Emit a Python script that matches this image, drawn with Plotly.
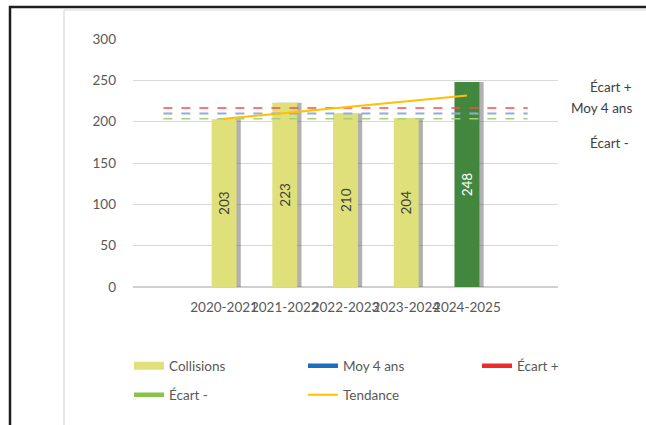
import plotly.graph_objects as go

# ---- data ----
categories = ["", "2020-2021", "2021-2022", "2022-2023", "2023-2024", "2024-2025", ""]
periods = ["2020-2021", "2021-2022", "2022-2023", "2023-2024", "2024-2025"]
collisions = [203, 223, 210, 204, 248]
moy_4_ans = 210
ecart_plus = 216.5
ecart_minus = 203.5
tendance = [203.4, 210.5, 217.6, 224.7, 231.8]
y_ticks = [0, 50, 100, 150, 200, 250, 300]

# ---- style ----
FONT = "Lato"
W, H = 646, 425
L, R, T, B = 133, 88, 39, 138
PW, PH = W - L - R, H - T - B

def xp(px):
    return (px - L) / PW

def yp(py):
    return (H - B - py) / PH

bar_pos = list(range(1, len(periods) + 1))
all_pos = list(range(len(categories)))
bar_colors = ["#E0E07A"] * 4 + ["#43873F"]
text_colors = ["#404040"] * 4 + ["#FFFFFF"]
BW = 0.41

fig = go.Figure()

# shadow behind bars
fig.add_trace(go.Bar(
    x=bar_pos, y=collisions, width=BW, offset=-BW / 2 + 0.07,
    marker=dict(color="rgba(70,70,70,0.42)", line=dict(width=0)),
    showlegend=False, hoverinfo="skip"))

fig.add_trace(go.Bar(
    x=bar_pos, y=collisions, width=BW, offset=-BW / 2,
    marker=dict(color=bar_colors, line=dict(width=0)),
    text=[str(v) for v in collisions], textposition="inside",
    insidetextanchor="middle", textangle=-90,
    textfont=dict(family=FONT, size=13.5, color=text_colors),
    showlegend=False, name="Collisions"))

# reference lines across the axis
fig.add_trace(go.Scatter(x=all_pos, y=[ecart_plus] * len(all_pos), mode="lines",
                         line=dict(color="#FF4A4A", width=1.5, dash="dash"),
                         showlegend=False, hoverinfo="skip"))
fig.add_trace(go.Scatter(x=all_pos, y=[moy_4_ans] * len(all_pos), mode="lines",
                         line=dict(color="#8DAEDA", width=2, dash="dash"),
                         showlegend=False, hoverinfo="skip"))
fig.add_trace(go.Scatter(x=all_pos, y=[ecart_minus] * len(all_pos), mode="lines",
                         line=dict(color="#A5D07A", width=1.5, dash="dash"),
                         showlegend=False, hoverinfo="skip"))
fig.add_trace(go.Scatter(x=bar_pos, y=tendance, mode="lines",
                         line=dict(color="#FFC000", width=2),
                         showlegend=False, hoverinfo="skip"))

# legend entries
def leg(name, color, width, legend):
    fig.add_trace(go.Scatter(x=[None], y=[None], mode="lines", name=name,
                             line=dict(color=color, width=width),
                             legend=legend, showlegend=True))

leg("Collisions", "#E0E07A", 8, "legend")
leg("Moy 4 ans", "#1A6FBF", 4.5, "legend")
leg("Écart +", "#EE2A2A", 4.5, "legend3")
leg("Écart -", "#8BC34A", 4.5, "legend2")
leg("Tendance", "#FFC000", 2, "legend2")

legfont = dict(family=FONT, size=13.5, color="#595959")

shapes = [
    # light chart-area border
    dict(type="line", xref="paper", yref="paper", x0=xp(64), x1=xp(660), y0=yp(10), y1=yp(10),
         line=dict(color="#D9D9D9", width=1.2)),
    dict(type="line", xref="paper", yref="paper", x0=xp(64), x1=xp(64), y0=yp(10), y1=yp(440),
         line=dict(color="#D9D9D9", width=1.2)),
    # dark outer frame
    dict(type="line", xref="paper", yref="paper", x0=xp(9), x1=xp(660), y0=yp(7), y1=yp(7),
         line=dict(color="#1E1E1E", width=2.5)),
    dict(type="line", xref="paper", yref="paper", x0=xp(10), x1=xp(10), y0=yp(6), y1=yp(440),
         line=dict(color="#1E1E1E", width=2.5)),
]

annot_font = dict(family=FONT, size=13.5, color="#404040")
annotations = [
    dict(text="Écart +", x=xp(634), y=yp(87), xref="paper", yref="paper",
         xanchor="right", yanchor="middle", showarrow=False, font=annot_font),
    dict(text="Moy 4 ans", x=xp(634), y=yp(108), xref="paper", yref="paper",
         xanchor="right", yanchor="middle", showarrow=False, font=annot_font),
    dict(text="Écart -", x=xp(631), y=yp(143), xref="paper", yref="paper",
         xanchor="right", yanchor="middle", showarrow=False, font=annot_font),
]

leg_common = dict(orientation="h", xanchor="left", yanchor="middle",
                  entrywidthmode="pixels", font=legfont,
                  bgcolor="rgba(0,0,0,0)", itemwidth=30)

fig.update_layout(
    width=W, height=H,
    margin=dict(l=L, r=R, t=T, b=B, autoexpand=False),
    paper_bgcolor="white", plot_bgcolor="white",
    barmode="overlay",
    font=dict(family=FONT, size=13.5, color="#595959"),
    shapes=shapes, annotations=annotations,
    legend=dict(x=xp(129), y=yp(366), entrywidth=129, **leg_common),
    legend3=dict(x=xp(477), y=yp(366), entrywidth=0, **leg_common),
    legend2=dict(x=xp(129), y=yp(395), entrywidth=129, **leg_common),
    xaxis=dict(range=[-0.5, len(categories) - 0.5], tickmode="array",
               tickvals=bar_pos, ticktext=periods, tickangle=0,
               showgrid=False, zeroline=False, showline=False, ticks="",
               ticklabelstandoff=10, tickfont=dict(family=FONT, size=13.5, color="#595959")),
    yaxis=dict(range=[0, 300], tickmode="array", tickvals=y_ticks,
               showgrid=True, gridcolor="#D9D9D9", gridwidth=1.3,
               zeroline=True, zerolinecolor="#D0D0D0", zerolinewidth=1.5,
               showline=False, ticks="", ticklabelstandoff=16,
               tickfont=dict(family=FONT, size=13.5, color="#595959")),
)

fig.write_html("out.html", config={"displayModeBar": False},
               post_script="document.body.style.margin='0';")
